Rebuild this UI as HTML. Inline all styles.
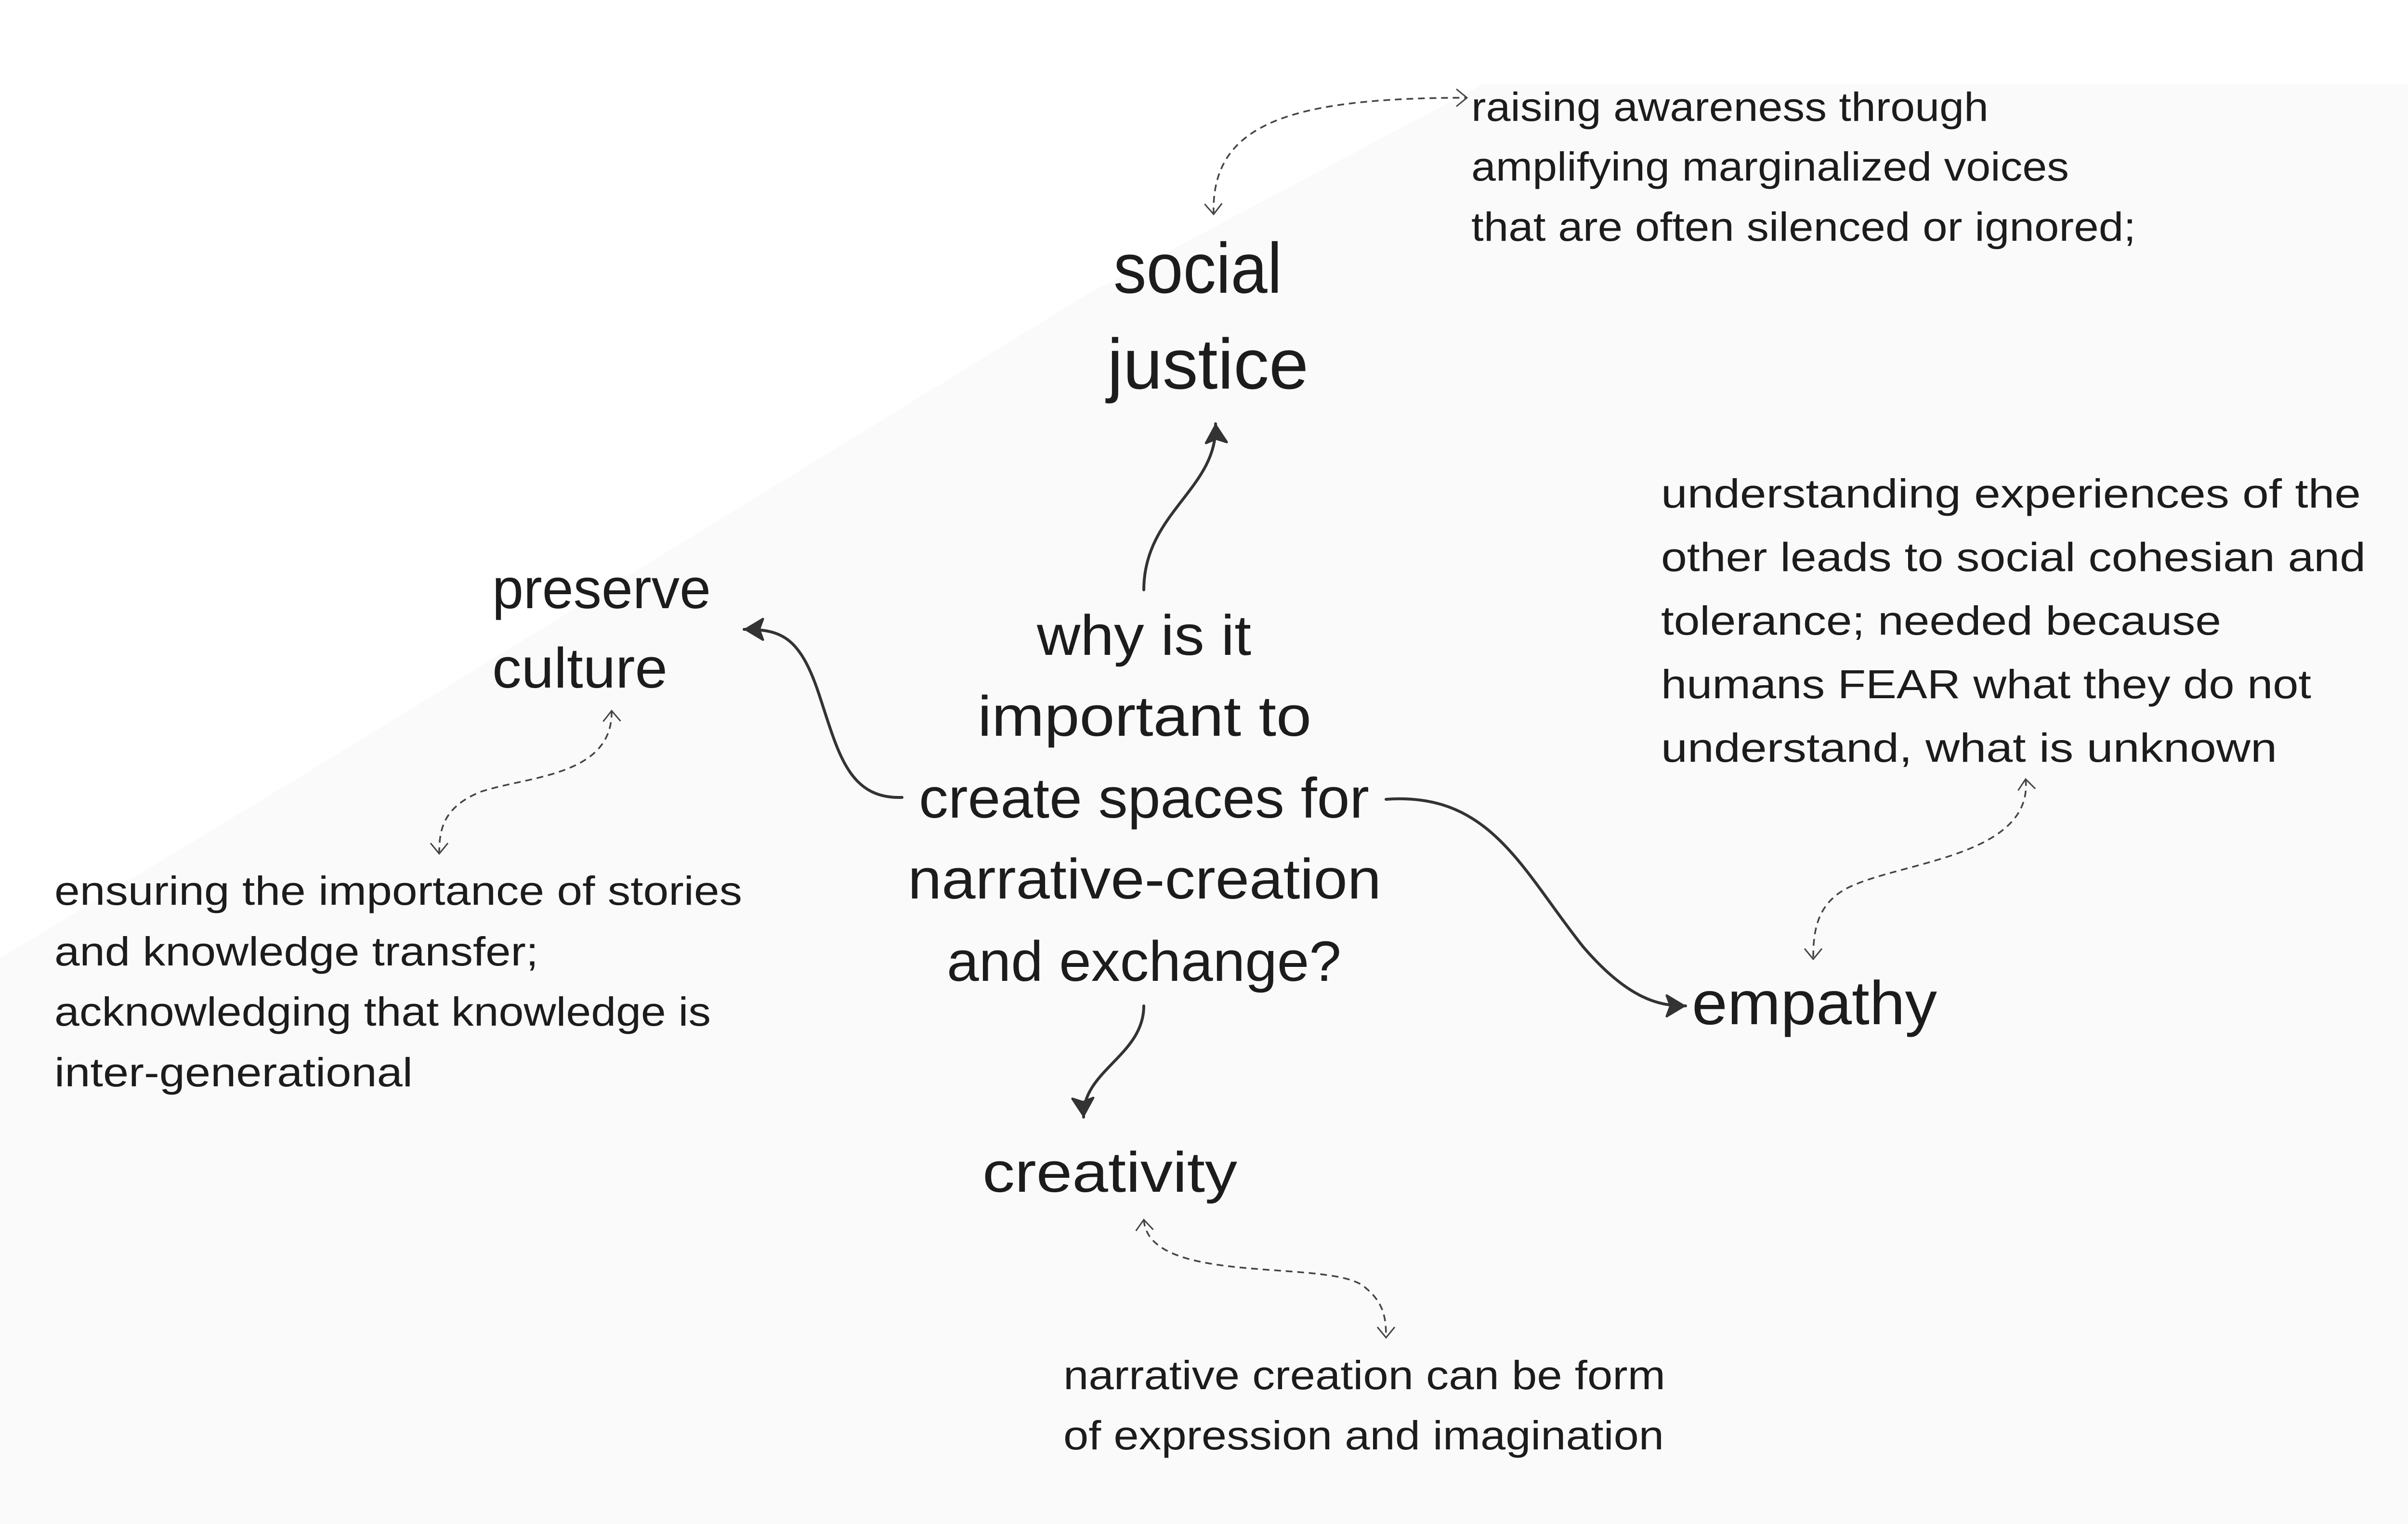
<!DOCTYPE html>
<html><head><meta charset="utf-8"><style>
html,body{margin:0;padding:0;background:#fff}
svg{display:block}
text{font-family:"Liberation Sans",sans-serif;fill:#1c1c1c}
.s{font-size:84px}
.b{font-size:118px}
.xl{font-size:148px}
</style></head><body>
<svg width="5054" height="3165" viewBox="0 0 5054 3165" xmlns="http://www.w3.org/2000/svg">
<defs>
<marker id="ah" viewBox="0 0 10 10" refX="9" refY="5" markerWidth="8" markerHeight="8" orient="auto" markerUnits="userSpaceOnUse" style="overflow:visible">
<path d="M-40,-22 L5,5 L-40,32 L-30,5 Z" fill="#333" stroke="#333" stroke-width="6" stroke-linejoin="round"/>
</marker>
<marker id="oh" viewBox="0 0 10 10" refX="0" refY="0" markerWidth="10" markerHeight="10" orient="auto-start-reverse" markerUnits="userSpaceOnUse" style="overflow:visible">
<path d="M-22,-18 L0,0 L-22,18" fill="none" stroke="#444" stroke-width="3"/>
</marker>
</defs>
<rect width="5054" height="3165" fill="#fff"/>
<polygon points="3080,175 5054,175 5054,3165 0,3165 0,1990 645,1600 2256,612" fill="#fafafa"/>

<g fill="none" stroke="#333" stroke-width="6" stroke-linecap="round">
<path d="M2375,1225 C2375,1064 2530,1015 2524,880" marker-end="url(#ah)"/>
<path d="M1873,1656 C1760,1660 1740,1560 1700,1440 C1660,1320 1620,1307 1545,1307" marker-end="url(#ah)"/>
<path d="M2878,1660 C3094,1644 3159,1805 3287,1966 C3384,2079 3449,2089 3500,2089" marker-end="url(#ah)"/>
<path d="M2375,2089 C2375,2192 2246,2224 2250,2320" marker-end="url(#ah)"/>
</g>
<g fill="none" stroke="#444" stroke-width="3.5" stroke-dasharray="14,10">
<path d="M2520,445 C2514,258 2675,203 3046,203" marker-start="url(#oh)" marker-end="url(#oh)"/>
<path d="M1270,1476 C1273,1612 1096,1612 999,1644 C919,1676 912,1724 912,1773" marker-start="url(#oh)" marker-end="url(#oh)"/>
<path d="M4206,1618 C4222,1773 3964,1789 3852,1837 C3771,1869 3765,1934 3765,1992" marker-start="url(#oh)" marker-end="url(#oh)"/>
<path d="M2375,2533 C2385,2675 2772,2611 2836,2675 C2875,2707 2878,2740 2878,2778" marker-start="url(#oh)" marker-end="url(#oh)"/>
</g>

<text class="s" x="3055" y="251" textLength="1074" lengthAdjust="spacingAndGlyphs">raising awareness through</text>
<text class="s" x="3055" y="375" textLength="1241" lengthAdjust="spacingAndGlyphs">amplifying marginalized voices</text>
<text class="s" x="3055" y="500" textLength="1380" lengthAdjust="spacingAndGlyphs">that are often silenced or ignored;</text>

<text class="xl" x="2312" y="608" textLength="350" lengthAdjust="spacingAndGlyphs">social</text>
<text class="xl" x="2299" y="807" textLength="418" lengthAdjust="spacingAndGlyphs">justice</text>

<text class="s" x="3449" y="1054" textLength="1453" lengthAdjust="spacingAndGlyphs">understanding experiences of the</text>
<text class="s" x="3449" y="1186" textLength="1463" lengthAdjust="spacingAndGlyphs">other leads to social cohesian and</text>
<text class="s" x="3449" y="1318" textLength="1163" lengthAdjust="spacingAndGlyphs">tolerance; needed because</text>
<text class="s" x="3449" y="1450" textLength="1350" lengthAdjust="spacingAndGlyphs">humans FEAR what they do not</text>
<text class="s" x="3449" y="1582" textLength="1279" lengthAdjust="spacingAndGlyphs">understand, what is unknown</text>

<text class="b" x="2153" y="1360" textLength="445" lengthAdjust="spacingAndGlyphs">why is it</text>
<text class="b" x="2030" y="1528" textLength="693" lengthAdjust="spacingAndGlyphs">important to</text>
<text class="b" x="1908" y="1698" textLength="935" lengthAdjust="spacingAndGlyphs">create spaces for</text>
<text class="b" x="1885" y="1866" textLength="983" lengthAdjust="spacingAndGlyphs">narrative-creation</text>
<text class="b" x="1966" y="2037" textLength="819" lengthAdjust="spacingAndGlyphs">and exchange?</text>

<text class="b" x="1022" y="1263" textLength="454" lengthAdjust="spacingAndGlyphs">preserve</text>
<text class="b" x="1022" y="1428" textLength="364" lengthAdjust="spacingAndGlyphs">culture</text>

<text class="s" x="113" y="1879" textLength="1428" lengthAdjust="spacingAndGlyphs">ensuring the importance of stories</text>
<text class="s" x="113" y="2005" textLength="1005" lengthAdjust="spacingAndGlyphs">and knowledge transfer;</text>
<text class="s" x="113" y="2130" textLength="1363" lengthAdjust="spacingAndGlyphs">acknowledging that knowledge is</text>
<text class="s" x="113" y="2256" textLength="744" lengthAdjust="spacingAndGlyphs">inter-generational</text>

<text class="b" x="3513" y="2127" style="font-size:128px" textLength="509" lengthAdjust="spacingAndGlyphs">empathy</text>
<text class="b" x="2040" y="2475" textLength="529" lengthAdjust="spacingAndGlyphs">creativity</text>

<text class="s" x="2208" y="2885" textLength="1250" lengthAdjust="spacingAndGlyphs">narrative creation can be form</text>
<text class="s" x="2208" y="3010" textLength="1247" lengthAdjust="spacingAndGlyphs">of expression and imagination</text>
</svg>
</body></html>
